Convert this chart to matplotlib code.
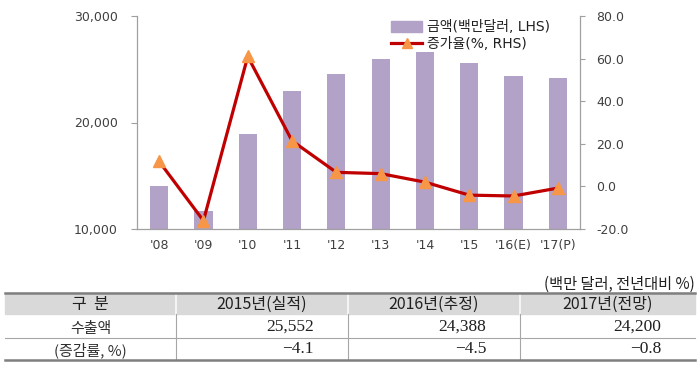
import matplotlib
matplotlib.use("Agg")
import matplotlib.pyplot as plt
from matplotlib.patches import Rectangle
from matplotlib.lines import Line2D

plt.rcParams['font.family'] = ['DejaVu Sans', 'Noto Sans CJK KR']

categories = ["'08", "'09", "'10", "'11", "'12", "'13", "'14", "'15", "'16(E)", "'17(P)"]
amount = [14000, 11700, 18900, 23000, 24600, 26000, 26600, 25552, 24388, 24200]
growth = [11.7, -16.1, 61.0, 21.4, 6.6, 6.0, 2.0, -4.1, -4.5, -0.8]

bar_label = "금액(백만달러, LHS)"
line_label = "증가율(%, RHS)"

unit_text = "(백만 달러, 전년대비 %)"
table_header = ["구  분", "2015년(실적)", "2016년(추정)", "2017년(전망)"]
table_rows = ["수출액", "(증감률, %)"]
table_amount = ["25,552", "24,388", "24,200"]
table_growth = ["\u22124.1", "\u22124.5", "\u22120.8"]

W, H = 700, 365
fig = plt.figure(figsize=(7.0, 3.65), dpi=100)

ax = fig.add_axes([137 / W, 1 - 229 / H, (580 - 137) / W, (229 - 16) / H])
x = list(range(len(categories)))
ax.bar(x, amount, width=0.41, color="#B3A2C7", zorder=2, label=bar_label)
ax.set_ylim(10000, 30000)
ax.set_yticks([10000, 20000, 30000])
ax.set_yticklabels([f"{v:,}" for v in [10000, 20000, 30000]])
ax.set_xlim(-0.5, len(categories) - 0.5)
ax.set_xticks(x)
ax.set_xticklabels(categories)
ax.tick_params(axis='x', length=0, pad=7, labelsize=9, colors="#404040")
ax.tick_params(axis='y', length=4.3, width=0.8, color="#A0A0A0", labelsize=9, labelcolor="#404040", pad=9.4)
for s in ["top", "right"]:
    ax.spines[s].set_visible(False)
for s in ["left", "bottom"]:
    ax.spines[s].set_color("#A0A0A0")
    ax.spines[s].set_linewidth(0.9)

ax2 = ax.twinx()
ax2.plot(x, growth, color="#C00000", linewidth=2.3, marker="^", markersize=9,
         markerfacecolor="#F79646", markeredgecolor="#F79646", zorder=3, label=line_label)
ax2.set_ylim(-20, 80)
ax2.set_yticks([-20, 0, 20, 40, 60, 80])
ax2.set_yticklabels([f"{v:.1f}" for v in [-20, 0, 20, 40, 60, 80]])
ax2.tick_params(axis='y', length=3.6, width=0.8, color="#A0A0A0", labelsize=9, labelcolor="#404040", pad=7.9)
for s in ["top", "left", "bottom"]:
    ax2.spines[s].set_visible(False)
ax2.spines["right"].set_color("#A0A0A0")
ax2.spines["right"].set_linewidth(0.9)

handles = [Rectangle((0, 0), 1, 1, color="#B3A2C7"),
           Line2D([0], [0], color="#C00000", linewidth=2.3, marker="^", markersize=7,
                  markerfacecolor="#F79646", markeredgecolor="#F79646")]
ax2.legend(handles, [bar_label, line_label], loc="upper left",
           bbox_to_anchor=(390 / W, 1 - 19 / H), bbox_transform=fig.transFigure,
           frameon=False, fontsize=10, handlelength=2.2, handleheight=0.8, labelspacing=0.22,
           borderaxespad=0, borderpad=0.1, handletextpad=0.35, labelcolor="#202020")

# Table
tax = fig.add_axes([0, 0, 1, 1])
tax.set_xlim(0, W)
tax.set_ylim(H, 0)
tax.axis("off")

left, right = 5, 695
col_edges = [5, 176, 348, 520, 695]
y_top, y_h, y_r1, y_bot = 293, 313.5, 337.7, 359

tax.text(695, 284, unit_text, ha="right", va="center", fontsize=11, color="#202020",
         family=["Noto Sans CJK KR"])
tax.add_patch(Rectangle((left, y_top), right - left, y_h - y_top, color="#D9D9D9", zorder=1))
tax.plot([left, right], [y_top, y_top], color="#7F7F7F", lw=1.8, zorder=3)
tax.plot([left, right], [y_r1, y_r1], color="#A6A6A6", lw=0.8, zorder=3)
tax.plot([left, right], [y_bot + 0.5, y_bot + 0.5], color="#7F7F7F", lw=1.8, zorder=3)
for cx in col_edges[1:-1]:
    tax.plot([cx, cx], [y_top + 1, y_h], color="#F5F5F5", lw=1.4, zorder=2)
    tax.plot([cx, cx], [y_h, y_bot], color="#A6A6A6", lw=0.8, zorder=2)

for i, h in enumerate(table_header):
    cx = (col_edges[i] + col_edges[i + 1]) / 2
    tax.text(cx, 304.5, h, ha="center", va="center", fontsize=11.5,
             color="#202020", family=["Noto Sans CJK KR"])

rows_y = [327, 349]
for r, lab in enumerate(table_rows):
    tax.text((col_edges[0] + col_edges[1]) / 2, rows_y[r] + 1.5, lab, ha="center", va="center",
             fontsize=10.8, color="#303030", family=["Noto Sans CJK KR"])
for j in range(3):
    xr = col_edges[j + 2] - 34
    tax.text(xr, rows_y[0], table_amount[j], ha="right", va="center", fontsize=12.5,
             color="#202020", family=["Liberation Serif", "Noto Sans CJK KR"])
    tax.text(xr, rows_y[1], table_growth[j], ha="right", va="center", fontsize=12.5,
             color="#202020", family=["Liberation Serif", "Noto Sans CJK KR"])

fig.savefig("out.png", dpi=100)
